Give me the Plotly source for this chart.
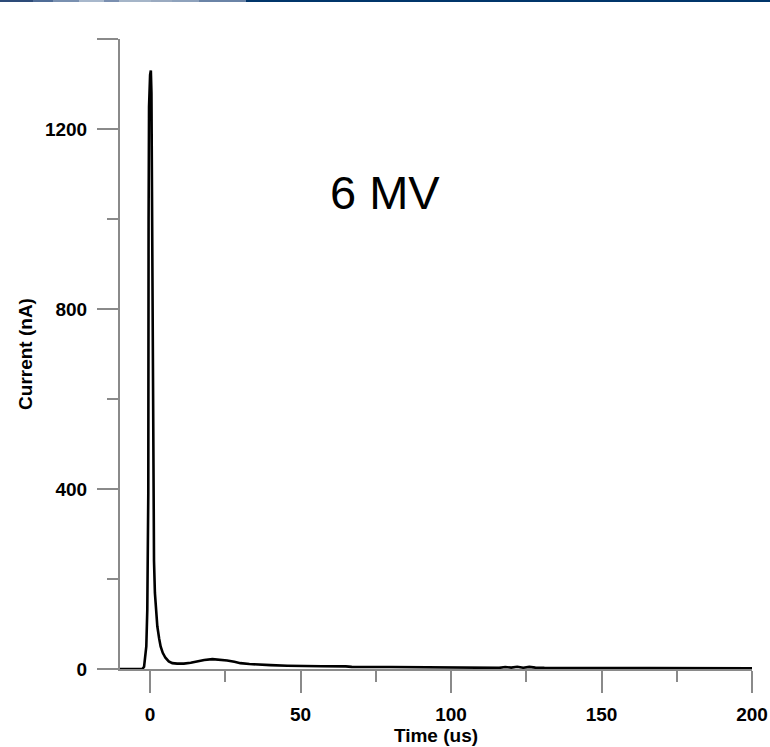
import plotly.graph_objects as go

# ---- data ----
time_us = [-10, -2.6, -2.0, -1.7, -1.26, -0.93, -0.73, -0.6, -0.5, -0.35,
           0.0, 0.25, 0.45, 0.6, 0.7, 0.85, 1.0, 1.15, 1.3, 1.6,
           2.0, 2.4, 3.0, 3.5, 4.2, 5.1, 6.2, 7.4, 9.0, 11.2,
           13.5, 15.7, 18, 20.7, 23, 25.6, 28, 30, 33, 35.6,
           40, 45.6, 50, 57, 65, 67, 80, 95, 110, 114,
           116, 118, 120, 122, 124, 126, 128, 131, 140, 160,
           180, 200]
current_nA = [0, 0, 5, 20, 50, 132, 243, 390, 1000, 1250,
              1320, 1330, 1280, 1113, 980, 760, 500, 320, 240, 169,
              125, 95, 68, 50, 36, 25, 17, 13, 12, 12,
              14, 17, 20, 22, 21, 19, 16, 13, 11, 9.5,
              8.5, 7.3, 6.5, 6, 5.8, 4.8, 4.5, 4.3, 4.2, 4,
              2.5, 4.5, 3, 5, 2.8, 4.8, 3, 2.5, 2.2, 2,
              1.8, 1.6]

x_major = [0, 50, 100, 150, 200]
x_minor = [25, 75, 125, 175]
y_major = [0, 400, 800, 1200, 1400]
y_major_text = ["0", "400", "800", "1200", ""]
y_minor = [200, 600, 1000]

label_text = "6 MV"

AX = "#8a8a8a"
FONT = "Arial, Liberation Sans, sans-serif"

fig = go.Figure()
fig.add_trace(go.Scatter(x=time_us, y=current_nA, mode="lines",
                         line=dict(color="black", width=2.6),
                         showlegend=False, hoverinfo="skip"))

fig.update_layout(
    width=770, height=747,
    margin=dict(l=120, r=18, t=39, b=78, autoexpand=False),
    paper_bgcolor="white", plot_bgcolor="white",
    font=dict(family=FONT, color="black"),
    xaxis=dict(
        range=[-10, 200], showgrid=False, zeroline=False,
        showline=True, linecolor=AX, linewidth=2, layer="below traces",
        tickmode="array", tickvals=x_major, ticktext=[str(v) for v in x_major],
        ticks="outside", ticklen=22, tickwidth=2, tickcolor=AX,
        tickfont=dict(size=19, weight="bold", family=FONT),
        ticklabelstandoff=5,
        minor=dict(tickmode="array", tickvals=x_minor, ticks="outside",
                   ticklen=11, tickwidth=2, tickcolor=AX, showgrid=False),
        title=dict(text="Time (us)", font=dict(size=19, weight="bold", family=FONT),
                   standoff=3),
        automargin=False,
    ),
    yaxis=dict(
        range=[0, 1400], showgrid=False, zeroline=False,
        showline=True, linecolor=AX, linewidth=2, layer="below traces",
        tickmode="array", tickvals=y_major, ticktext=y_major_text,
        ticks="outside", ticklen=21, tickwidth=2, tickcolor=AX,
        tickfont=dict(size=19, weight="bold", family=FONT),
        ticklabelstandoff=6,
        minor=dict(tickmode="array", tickvals=y_minor, ticks="outside",
                   ticklen=11, tickwidth=2, tickcolor=AX, showgrid=False),
        title=dict(text="Current (nA)", font=dict(size=19, weight="bold", family=FONT),
                   standoff=7),
        automargin=False,
    ),
    annotations=[dict(x=78, y=1058, xref="x", yref="y", text=label_text,
                      showarrow=False, font=dict(size=47, family=FONT, color="black"),
                      xanchor="center", yanchor="middle")],
)

# thin decorative header bar at the very top of the page
bar_segments = [(0, 33, "#2d4b78"), (33, 53, "#4f6c96"), (53, 79, "#7990b0"),
                (79, 104, "#a8b8cc"), (104, 119, "#7a8fb0"), (119, 151, "#a5b5c8"),
                (151, 172, "#9aaac0"), (172, 199, "#8ea2bc"), (199, 246, "#6a83a6"),
                (246, 770, "#00356a")]
pw, ph = 632.0, 630.0
for x0, x1, c in bar_segments:
    fig.add_shape(type="rect", xref="paper", yref="paper",
                  x0=(x0 - 120) / pw, x1=(x1 - 120) / pw,
                  y0=1 + 37 / ph, y1=1 + 39 / ph,
                  fillcolor=c, line=dict(width=0), layer="above")

fig.write_html("out.html")
